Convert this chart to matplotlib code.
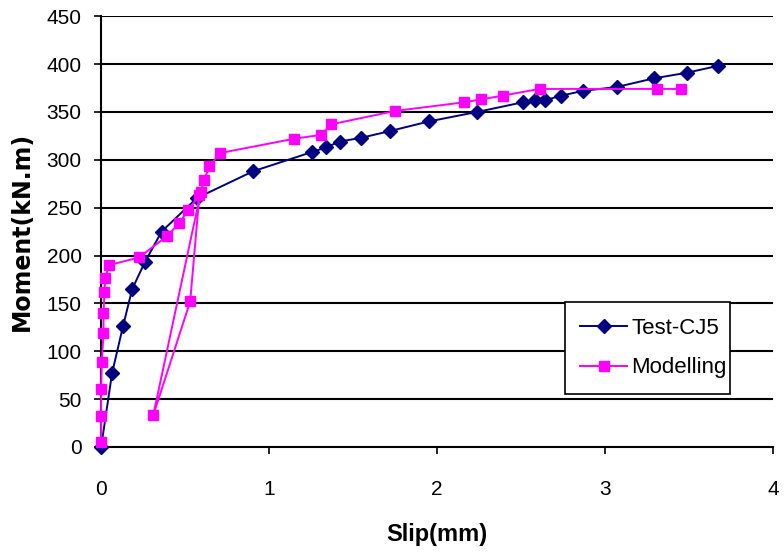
import matplotlib.pyplot as plt

# ---------------- data ----------------
test_slip = [0.0, 0.065, 0.13, 0.185, 0.26, 0.36, 0.57, 0.905, 1.254, 1.34,
             1.42, 1.55, 1.72, 1.95, 2.24, 2.51, 2.58, 2.64, 2.74, 2.87,
             3.07, 3.29, 3.49, 3.67]
test_moment = [0, 77, 126, 165, 193, 225, 260, 288, 308, 313,
               319, 323, 330, 340, 350, 360, 362, 362, 367, 372,
               376, 385, 391, 398]

model_slip = [0.0, 0.0, 0.0, 0.004, 0.014, 0.014, 0.02, 0.024, 0.048, 0.226,
              0.39, 0.466, 0.52, 0.585, 0.53, 0.31, 0.593, 0.613, 0.645, 0.708,
              1.15, 1.31, 1.37, 1.75, 2.16, 2.26, 2.39, 2.61, 3.31, 3.45]
model_moment = [5, 32, 61, 89, 119, 140, 162, 177, 190, 198,
                220, 234, 248, 263, 152, 33, 266, 279, 293, 307,
                322, 326, 337, 351, 360, 363, 367, 374, 374, 374]

yticks = list(range(0, 451, 50))
xticks = [0, 1, 2, 3, 4]

plt.rcParams['font.family'] = ['Liberation Sans', 'DejaVu Sans']

fig = plt.figure(figsize=(7.84, 5.57), dpi=100)
ax = fig.add_axes([0.129, 0.1975, 0.857, 0.7735])

ax.plot(test_slip, test_moment, color='#000080', marker='D', markersize=7.5,
        linewidth=1.4, label='Test-CJ5', clip_on=False, zorder=3)
ax.plot(model_slip, model_moment, color='#FF00FF', marker='s', markersize=7.5,
        linewidth=1.4, label='Modelling', clip_on=False, zorder=4)

ax.set_xlim(0, 4)
ax.set_ylim(0, 450)
ax.set_xticks(xticks)
ax.set_yticks(yticks)
ax.tick_params(axis='both', labelsize=15, direction='out', length=5, width=1.2)
ax.tick_params(axis='x', pad=19)
ax.tick_params(axis='y', pad=9)

for y in yticks[1:]:
    ax.axhline(y, color='black', linewidth=1.5, zorder=1)

for s in ['top', 'right']:
    ax.spines[s].set_visible(False)
for s in ['left', 'bottom']:
    ax.spines[s].set_linewidth(1.5)

ax.set_xlabel('Slip(mm)', fontsize=17, fontweight='bold', labelpad=17)
ax.set_ylabel('Moment(kN.m)', fontsize=17, fontweight='bold', labelpad=9,
              family='DejaVu Sans')

leg = ax.legend(loc='lower left', bbox_to_anchor=(0.69, 0.123, 0.246, 0.214),
                mode='expand', fontsize=16, fancybox=False, framealpha=1,
                edgecolor='black', borderpad=0.7, handlelength=2.1,
                handletextpad=0.2, labelspacing=0.85, borderaxespad=0)
leg.get_frame().set_linewidth(1.2)

fig.savefig('out.png', dpi=100)
